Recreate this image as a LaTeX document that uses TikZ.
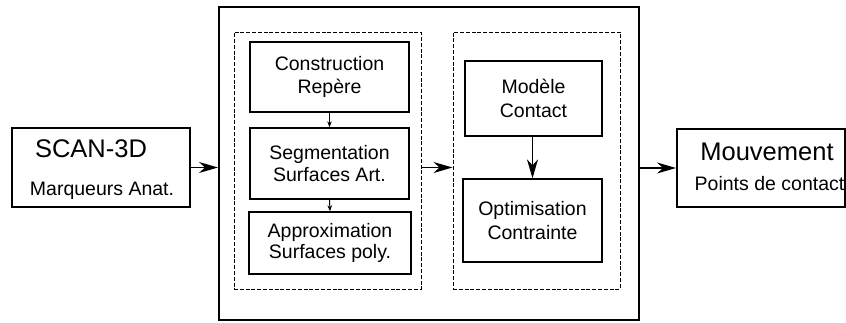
\documentclass[tikz,border=0pt]{standalone}
\usepackage{fontspec}
\setmainfont{Liberation Sans}
\usetikzlibrary{arrows.meta,calc}
\begin{document}
\begin{tikzpicture}[x=1pt,y=-1pt,
  outerbox/.style={draw, line width=2pt, inner sep=0pt},
  bigbox/.style={draw, line width=2pt, inner sep=0pt},
  dashbox/.style={draw, line width=1pt, dash pattern=on 4pt off 1.8pt, inner sep=0pt},
  stepbox/.style={draw, line width=1.3pt, inner sep=0pt, align=center,
     font=\fontsize{19.5}{23.5}\selectfont},
  bigtext/.style={font=\fontsize{25.5}{30}\selectfont, anchor=base, inner sep=0pt},
  smalltext/.style={font=\fontsize{19.5}{23}\selectfont, anchor=base, inner sep=0pt},
  bigarrow/.style={line width=1.3pt, -{Stealth[length=19pt, width=11pt, inset=6pt]}},
  smallarrow/.style={line width=1pt, -{Stealth[length=6pt, width=4.5pt, inset=2pt]}}
]
\useasboundingbox (0,0) rectangle (846,322);
% input box
\node[outerbox, minimum width=178pt, minimum height=79pt] (scan) at (101,167.5) {};
\node[bigtext] (scant) at (91,157) {SCAN-3D};
\node[smalltext] (scans) at (102,195) {Marqueurs Anat.};
% big box
\node[bigbox, minimum width=420pt, minimum height=313pt] (big) at (429,163.5) {};
% dashed groups
\node[dashbox, minimum width=187pt, minimum height=257pt] (ldash) at (327.5,160.5) {};
\node[dashbox, minimum width=167pt, minimum height=257pt] (rdash) at (536.5,160.5) {};
% left steps
\node[stepbox, minimum width=159pt, minimum height=70pt] (constr) at (329.5,77) {Construction\\Repère};
\node[stepbox, minimum width=159pt, minimum height=71pt] (seg) at (329.5,163.5) {Segmentation\\[-2pt]Surfaces Art.};
\node[stepbox, minimum width=162pt, minimum height=62pt] (approx) at (330,243) {Approximation\\[-3pt]Surfaces poly.};
% right steps
\node[stepbox, minimum width=137pt, minimum height=75pt] (model) at (533.5,98.5) {Modèle\\Contact};
\node[stepbox, minimum width=139pt, minimum height=83pt] (optim) at (532.5,220.5) {Optimisation\\Contrainte};
% output box
\node[outerbox, minimum width=168pt, minimum height=78pt] (mouv) at (761,168) {};
\node[bigtext] (mouvt) at (767,160) {Mouvement};
\node[smalltext] (mouvs) at (769.5,190) {Points de contact};
% connectors
\draw[bigarrow] (scan.east) -- (scan.east -| big.west);
\draw[bigarrow] (ldash.east |- scan.east) -- (rdash.west |- scan.east);
\draw[bigarrow] (big.east |- mouv.west) -- (mouv.west);
\draw[smallarrow] (constr.south) -- (seg.north);
\draw[smallarrow] (seg.south) -- (approx.north);
\draw[bigarrow] (model.south -| optim.north) -- (optim.north);
\end{tikzpicture}
\end{document}
